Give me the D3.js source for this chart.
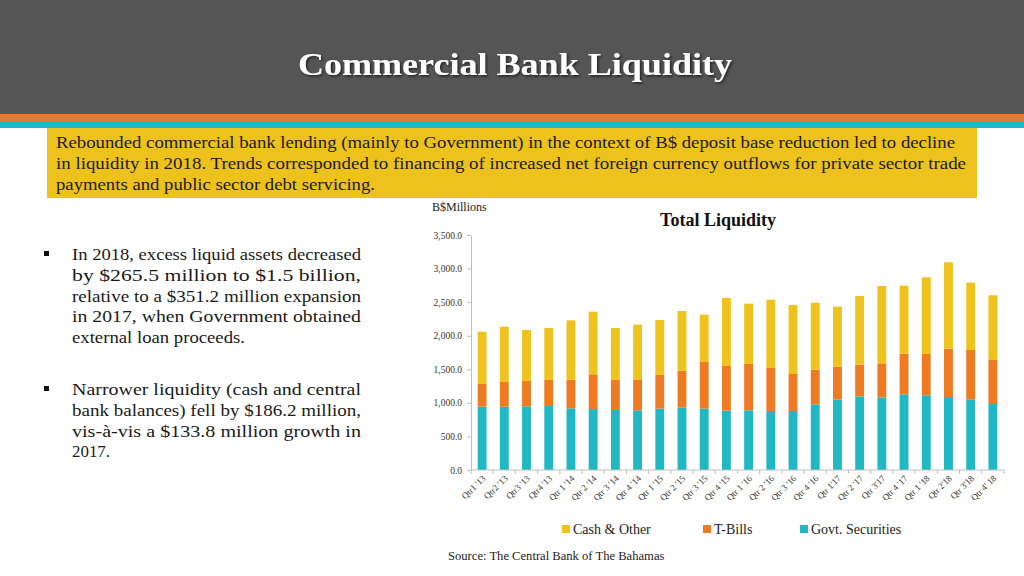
<!DOCTYPE html>
<html><head><meta charset="utf-8">
<script src="https://cdn.jsdelivr.net/npm/d3@7"></script>
<style>
html,body{margin:0;padding:0;background:#fff;}
svg{display:block;font-family:"Liberation Serif","DejaVu Serif",serif;}
</style></head>
<body><svg id="c" width="1024" height="576"></svg>
<script>
const categories = ["Qtr1 '13","Qtr2 '13","Qtr3 '13","Qtr4 '13","Qtr 1 '14","Qtr 2 '14","Qtr 3 '14","Qtr 4 '14","Qtr 1 '15","Qtr 2 '15","Qtr 3 '15","Qtr 4 '15","Qtr 1 '16","Qtr 2 '16","Qtr 3 '16","Qtr 4 '16","Qtr 1'17","Qtr 2 '17","Qtr 3'17","Qtr 4 '17","Qtr 1 '18","Qtr 2'18","Qtr 3'18","Qtr 4' 18"];
const govtSecurities = [943,943,948,953,918,908,894,889,914,928,914,884,889,879,879,978,1048,1097,1082,1127,1112,1087,1053,983];
const tBills = [338,368,378,387,427,517,446,451,501,552,695,665,690,640,551,516,491,472,507,606,616,720,734,665];
const cashOther = [779,824,759,775,884,933,775,825,819,888,705,1013,899,1018,1028,998,894,1023,1152,1013,1142,1286,1003,954];
const yTicks = [0,500,1000,1500,2000,2500,3000,3500];
const seriesNames = ["Govt. Securities","T-Bills","Cash & Other"];
const seriesColors = ["#1FB8C3","#EE7B22","#EFC31D"];
const legendOrder = [2,1,0];

const titleText = "Commercial Bank Liquidity";
const boxLines = [
 "Rebounded commercial bank lending (mainly to Government) in the context of B$ deposit base reduction led to decline",
 "in liquidity in 2018.  Trends corresponded to financing of increased net foreign currency outflows for private sector trade",
 "payments and public sector debt servicing."
];
const bullet1 = ["In 2018, excess liquid assets decreased","by $265.5 million to $1.5 billion,","relative to a $351.2 million expansion","in 2017, when Government obtained","external loan proceeds."];
const bullet2 = ["Narrower liquidity (cash and central","bank balances) fell by $186.2 million,","vis-à-vis a $133.8 million growth in","2017."];

const svg = d3.select("#c");
// header
svg.append("rect").attr("x",0).attr("y",0).attr("width",1024).attr("height",114).attr("fill","#555555");
svg.append("rect").attr("x",0).attr("y",114).attr("width",1024).attr("height",7).attr("fill","#E8792A");
svg.append("rect").attr("x",0).attr("y",121).attr("width",1024).attr("height",7).attr("fill","#22B5C2");
const defs = svg.append("defs");
const f = defs.append("filter").attr("id","sh").attr("x","-5%").attr("y","-20%").attr("width","110%").attr("height","150%");
f.append("feDropShadow").attr("dx",1.5).attr("dy",1.5).attr("stdDeviation",1).attr("flood-color","#000").attr("flood-opacity",0.6);
svg.append("text").attr("x",515).attr("y",75).attr("text-anchor","middle").attr("fill","#fff")
  .attr("font-size",31).attr("font-weight","bold").attr("textLength",434).attr("lengthAdjust","spacingAndGlyphs")
  .attr("filter","url(#sh)").text(titleText);

// yellow box
svg.append("rect").attr("x",47).attr("y",128).attr("width",930).attr("height",70).attr("fill","#EEC21C");
const boxW = [899, 910, 319];
boxLines.forEach((t,i)=>{
  svg.append("text").attr("x",56).attr("y",148+i*21).attr("font-size",17.2).attr("fill","#1a1a1a")
    .attr("textLength",boxW[i]).attr("lengthAdjust","spacingAndGlyphs").text(t);
});

// bullets
function bullets(lines, y0, by, lastW){
  svg.append("rect").attr("x",44).attr("y",by).attr("width",5).attr("height",5).attr("fill","#111");
  lines.forEach((t,i)=>{
    svg.append("text").attr("x",72).attr("y",y0+i*20.8).attr("font-size",17.5).attr("fill","#1a1a1a")
      .attr("textLength", i<lines.length-1 ? 289 : lastW).attr("lengthAdjust","spacingAndGlyphs").text(t);
  });
}
bullets(bullet1, 260, 251, 173);
bullets(bullet2, 395, 386, 38);

// chart
const x = d3.scaleBand().domain(categories).range([471,1004]).paddingInner(0.6).paddingOuter(0.3);
const y = d3.scaleLinear().domain([0,3500]).range([470,235]);

svg.append("text").attr("x",432).attr("y",211).attr("font-size",12).attr("fill","#222").text("B$Millions");
svg.append("text").attr("x",718).attr("y",226).attr("text-anchor","middle").attr("font-size",18).attr("font-weight","bold").attr("fill","#111").text("Total Liquidity");

const data = categories.map((c,i)=>({cat:c, "Govt. Securities":govtSecurities[i], "T-Bills":tBills[i], "Cash & Other":cashOther[i]}));
const stack = d3.stack().keys(seriesNames)(data);
svg.append("g").selectAll("g").data(stack).join("g").attr("fill",(d,i)=>seriesColors[i])
  .selectAll("rect").data(d=>d).join("rect")
  .attr("x",d=>x(d.data.cat)).attr("width",x.bandwidth())
  .attr("y",d=>y(d[1])).attr("height",d=>y(d[0])-y(d[1]));

const yAxis = svg.append("g").attr("transform","translate(471,0)")
  .call(d3.axisLeft(y).tickValues(yTicks).tickFormat(d3.format(",.1f")).tickSize(4).tickSizeOuter(0));
yAxis.select(".domain").attr("stroke","#BFBFBF");
yAxis.selectAll(".tick line").attr("stroke","#BFBFBF");
yAxis.selectAll("text").attr("font-size",9.5).attr("fill","#333").attr("font-family","Liberation Serif").attr("x",-9);

const xg = svg.append("g").attr("transform","translate(0,470)");
xg.append("line").attr("x1",471).attr("x2",1004).attr("y1",0).attr("y2",0).attr("stroke","#BFBFBF");
const step = x.step();
xg.selectAll("line.t").data(d3.range(categories.length+1)).join("line").attr("class","t")
  .attr("x1",i=>471+i*step).attr("x2",i=>471+i*step).attr("y1",0).attr("y2",4).attr("stroke","#BFBFBF");
xg.selectAll("text").data(categories).join("text")
  .attr("transform",d=>`translate(${x(d)+x.bandwidth()/2+4},9) rotate(-45)`)
  .attr("text-anchor","end").attr("font-size",9).attr("fill","#333").text(d=>d);

// legend
const legX = [562, 703, 800];
legendOrder.forEach((si,k)=>{
  svg.append("rect").attr("x",legX[k]).attr("y",525).attr("width",8).attr("height",8).attr("fill",seriesColors[si]);
  svg.append("text").attr("x",legX[k]+11).attr("y",534).attr("font-size",14).attr("fill","#222").text(seriesNames[si]);
});
svg.append("text").attr("x",448).attr("y",560).attr("font-size",12.6).attr("fill","#222").text("Source: The Central Bank of The Bahamas");
</script></body></html>
